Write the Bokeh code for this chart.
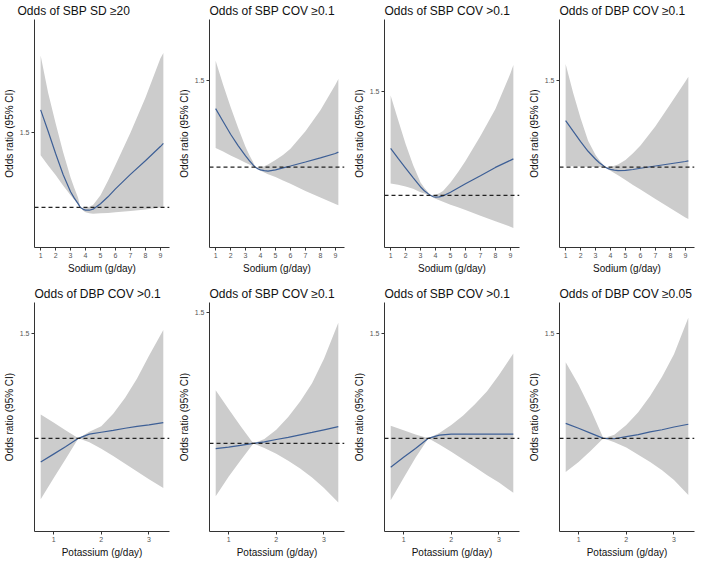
from bokeh.plotting import figure
from bokeh.layouts import gridplot
from bokeh.models import Range1d, Span, FixedTicker
from bokeh.embed import file_html
from bokeh.resources import INLINE

# ---------------- data ----------------
sodium_x = [1, 1.5, 2, 2.5, 3, 3.25, 3.5, 3.65, 3.85, 4, 4.25, 4.5, 5, 5.5, 6, 7, 8, 9, 9.2]
potassium_x = [0.73, 1.0, 1.25, 1.52, 1.75, 2.0, 2.25, 2.5, 2.75, 3.0, 3.3]

sodium_ticks = [1, 2, 3, 4, 5, 6, 7, 8, 9]
potassium_ticks = [1, 2, 3]
y_ticks = [1.5]

titles = [
    "Odds of SBP SD \u226520", "Odds of SBP COV \u22650.1", "Odds of SBP COV >0.1", "Odds of DBP COV \u22650.1",
    "Odds of DBP COV >0.1", "Odds of SBP COV \u22650.1", "Odds of SBP COV >0.1", "Odds of DBP COV \u22650.05",
]

# Sodium panels
na_sbp_sd20_or = [1.654, 1.511, 1.361, 1.221, 1.105, 1.062, 1.025, 1.0, 0.987, 0.982, 0.981, 0.988, 1.024, 1.071, 1.124, 1.221, 1.313, 1.408, 1.429]
na_sbp_sd20_hi = [2.019, 1.768, 1.564, 1.371, 1.200, 1.130, 1.065, 1.0, 0.998, 1.000, 1.005, 1.016, 1.082, 1.178, 1.285, 1.500, 1.736, 1.998, 2.036]
na_sbp_sd20_lo = [1.350, 1.281, 1.217, 1.146, 1.082, 1.052, 1.020, 1.0, 0.978, 0.968, 0.960, 0.957, 0.960, 0.963, 0.967, 0.975, 0.986, 1.000, 1.004]

na_sbp_cov_ge_or = [1.338, 1.264, 1.190, 1.125, 1.066, 1.038, 1.013, 1.0, 0.990, 0.985, 0.980, 0.978, 0.985, 0.996, 1.007, 1.030, 1.054, 1.079, 1.087]
na_sbp_cov_ge_hi = [1.614, 1.476, 1.347, 1.227, 1.116, 1.070, 1.030, 1.0, 0.998, 1.000, 1.006, 1.015, 1.042, 1.070, 1.107, 1.208, 1.328, 1.476, 1.509]
na_sbp_cov_ge_lo = [1.111, 1.090, 1.068, 1.047, 1.026, 1.016, 1.006, 1.0, 0.985, 0.979, 0.970, 0.960, 0.943, 0.924, 0.904, 0.863, 0.825, 0.788, 0.780]

na_sbp_cov_gt_or = [1.226, 1.177, 1.131, 1.085, 1.040, 1.022, 1.008, 1.0, 0.993, 0.991, 0.992, 0.997, 1.015, 1.035, 1.055, 1.094, 1.134, 1.168, 1.175]
na_sbp_cov_gt_hi = [1.480, 1.362, 1.246, 1.146, 1.062, 1.036, 1.015, 1.0, 1.000, 1.003, 1.010, 1.020, 1.062, 1.111, 1.165, 1.285, 1.415, 1.585, 1.626]
na_sbp_cov_gt_lo = [1.057, 1.051, 1.042, 1.031, 1.015, 1.009, 1.002, 1.0, 0.989, 0.983, 0.976, 0.969, 0.955, 0.942, 0.929, 0.902, 0.875, 0.849, 0.843]

na_dbp_cov_ge_or = [1.269, 1.208, 1.148, 1.092, 1.046, 1.026, 1.010, 1.0, 0.992, 0.988, 0.983, 0.980, 0.982, 0.987, 0.994, 1.007, 1.020, 1.033, 1.037]
na_dbp_cov_ge_hi = [1.596, 1.430, 1.282, 1.153, 1.070, 1.040, 1.016, 1.0, 0.999, 1.002, 1.008, 1.015, 1.042, 1.081, 1.125, 1.236, 1.365, 1.494, 1.522]
na_dbp_cov_ge_lo = [1.006, 1.005, 1.004, 1.003, 1.002, 1.002, 1.001, 1.0, 0.987, 0.980, 0.967, 0.954, 0.926, 0.898, 0.871, 0.817, 0.764, 0.710, 0.701]

# Potassium panels
k_dbp_cov_gt_or = [0.887, 0.925, 0.960, 1.0, 1.020, 1.029, 1.038, 1.048, 1.057, 1.064, 1.075]
k_dbp_cov_gt_hi = [1.113, 1.075, 1.038, 1.0, 1.031, 1.058, 1.117, 1.193, 1.285, 1.393, 1.515]
k_dbp_cov_gt_lo = [0.710, 0.810, 0.900, 1.0, 0.982, 0.951, 0.916, 0.879, 0.842, 0.805, 0.764]

k_sbp_cov_ge_or = [0.980, 0.986, 0.993, 1.0, 1.006, 1.015, 1.023, 1.033, 1.042, 1.052, 1.064]
k_sbp_cov_ge_hi = [1.203, 1.132, 1.067, 1.0, 1.017, 1.052, 1.101, 1.160, 1.230, 1.323, 1.461]
k_sbp_cov_ge_lo = [0.799, 0.873, 0.935, 1.0, 0.983, 0.961, 0.934, 0.904, 0.870, 0.830, 0.775]

k_sbp_cov_gt_or = [0.863, 0.910, 0.952, 1.0, 1.015, 1.020, 1.020, 1.020, 1.020, 1.020, 1.020]
k_sbp_cov_gt_hi = [1.060, 1.038, 1.018, 1.0, 1.025, 1.063, 1.109, 1.163, 1.224, 1.301, 1.403]
k_sbp_cov_gt_lo = [0.706, 0.811, 0.908, 1.0, 0.971, 0.936, 0.899, 0.862, 0.825, 0.790, 0.741]

k_dbp_cov_ge005_or = [1.071, 1.048, 1.025, 1.0, 0.998, 1.008, 1.018, 1.031, 1.041, 1.054, 1.067]
k_dbp_cov_ge005_hi = [1.362, 1.255, 1.140, 1.0, 1.017, 1.063, 1.124, 1.201, 1.293, 1.400, 1.574]
k_dbp_cov_ge005_lo = [0.840, 0.887, 0.940, 1.0, 0.982, 0.956, 0.922, 0.887, 0.848, 0.802, 0.730]

# axis limits (y) per panel
y_limits = [(0.731, 2.26), (0.537, 1.852), (0.749, 1.845), (0.537, 1.852),
            (0.557, 1.646), (0.664, 1.538), (0.557, 1.646), (0.557, 1.646)]
sodium_xlim = (0.59, 9.61)
potassium_xlim = (0.60, 3.43)

series = [
    (na_sbp_sd20_or, na_sbp_sd20_lo, na_sbp_sd20_hi),
    (na_sbp_cov_ge_or, na_sbp_cov_ge_lo, na_sbp_cov_ge_hi),
    (na_sbp_cov_gt_or, na_sbp_cov_gt_lo, na_sbp_cov_gt_hi),
    (na_dbp_cov_ge_or, na_dbp_cov_ge_lo, na_dbp_cov_ge_hi),
    (k_dbp_cov_gt_or, k_dbp_cov_gt_lo, k_dbp_cov_gt_hi),
    (k_sbp_cov_ge_or, k_sbp_cov_ge_lo, k_sbp_cov_ge_hi),
    (k_sbp_cov_gt_or, k_sbp_cov_gt_lo, k_sbp_cov_gt_hi),
    (k_dbp_cov_ge005_or, k_dbp_cov_ge005_lo, k_dbp_cov_ge005_hi),
]

FONT = "Liberation Sans"
LINE_COLOR = "#3d5f96"
RIBBON = "#cccccc"
AXIS_COLOR = "#333333"


def make_panel(i):
    sodium = i < 4
    xs = sodium_x if sodium else potassium_x
    xlim = sodium_xlim if sodium else potassium_xlim
    ylo, yhi = y_limits[i]
    or_, lo, hi = series[i]
    row1 = sodium
    p = figure(width=175, height=276 if row1 else 284,
               output_backend="svg", toolbar_location=None,
               x_range=Range1d(*xlim), y_range=Range1d(ylo, yhi),
               min_border=0,
               min_border_left=5, min_border_right=6,
               min_border_top=14 if row1 else 26, min_border_bottom=0)
    p.title.text = titles[i]
    p.title.text_font = FONT
    p.title.text_font_size = "12px"
    p.title.text_font_style = "normal"
    p.title.text_color = "#111111"
    try:
        p.title.standoff = 3
    except Exception:
        pass
    if i == 0:
        p.title.offset = -17

    p.varea(x=xs, y1=lo, y2=hi, fill_color=RIBBON, fill_alpha=1.0)
    p.line(xs, or_, line_color=LINE_COLOR, line_width=1.2)
    p.add_layout(Span(location=1.0, dimension="width", line_color="#222222",
                      line_dash="4 3", line_width=1.2))

    p.xaxis.ticker = FixedTicker(ticks=sodium_ticks if sodium else potassium_ticks)
    p.yaxis.ticker = FixedTicker(ticks=y_ticks)
    p.xaxis.axis_label = "Sodium (g/day)" if sodium else "Potassium (g/day)"
    p.yaxis.axis_label = "Odds ratio (95% CI)"
    for ax in (p.xaxis, p.yaxis):
        ax.axis_label_text_font = FONT
        ax.axis_label_text_font_size = "10px"
        ax.axis_label_text_font_style = "normal"
        ax.axis_label_text_color = "#111111"
        ax.axis_label_text_line_height = 1.0
        ax.axis_label_standoff = 2
        ax.major_label_text_font = FONT
        ax.major_label_text_font_size = "7px"
        ax.major_label_text_color = "#555555"
        ax.major_label_text_line_height = 1.0
        ax.major_label_standoff = 2
        ax.major_tick_out = 3
        ax.major_tick_in = 0
        ax.minor_tick_line_color = None
        ax.axis_line_color = AXIS_COLOR
        ax.axis_line_width = 1
        ax.major_tick_line_color = AXIS_COLOR
    p.grid.visible = False
    p.outline_line_color = None
    p.background_fill_color = "white"
    p.border_fill_color = "white"
    return p


panels = [make_panel(i) for i in range(8)]
grid = gridplot([panels[:4], panels[4:]], toolbar_location=None)

open("out.html", "w").write(file_html(grid, INLINE))
